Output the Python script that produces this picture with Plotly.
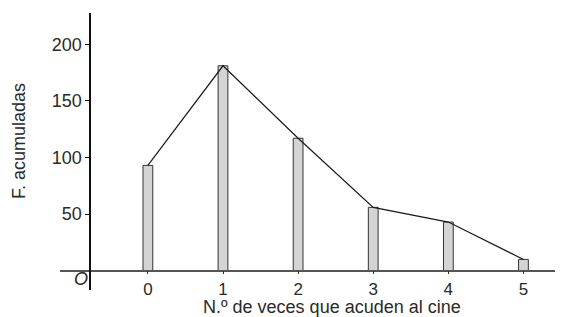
import plotly.graph_objects as go

categories = [0, 1, 2, 3, 4, 5]
values = [93, 181, 117, 56, 43, 10]
y_ticks = [50, 100, 150, 200]
x_title = "N.º de veces que acuden al cine"
y_title = "F. acumuladas"

FONT = "Liberation Sans, Arial, sans-serif"
TXT = "#2a2a2a"

fig = go.Figure()
fig.add_trace(go.Bar(
    x=categories, y=values, width=0.13,
    marker=dict(color="#d4d4d4", line=dict(color="#333333", width=1)),
    showlegend=False, hoverinfo="skip",
))
fig.add_trace(go.Scatter(
    x=categories, y=values, mode="lines",
    line=dict(color="#1a1a1a", width=1.2),
    showlegend=False, hoverinfo="skip",
))

ymin, ymax = -17, 227.6
xmin, xmax = -1.17, 5.42
x_axis_pos = (0 - ymin) / (ymax - ymin)
y_axis_pos = (-0.77 - xmin) / (xmax - xmin)

# page body has an 8px margin, so the plot area is shifted accordingly
fig.update_layout(
    width=568, height=317,
    margin=dict(l=52, r=21, t=5, b=35, autoexpand=False),
    paper_bgcolor="white", plot_bgcolor="white",
    font=dict(family=FONT, size=18, color=TXT),
    xaxis=dict(
        range=[xmin, xmax], anchor="free", position=x_axis_pos, automargin=False,
        showline=True, linecolor="#555555", linewidth=1.5,
        showgrid=False, zeroline=False,
        tickvals=categories, ticktext=[str(c) for c in categories],
        ticks="outside", ticklen=3, tickcolor="#333333", tickwidth=1,
        tickfont=dict(size=17, color=TXT),
    ),
    yaxis=dict(
        range=[ymin, ymax], anchor="free", position=y_axis_pos, automargin=False,
        showline=True, linecolor="#111111", linewidth=1.5,
        showgrid=False, zeroline=False,
        tickvals=y_ticks, ticktext=[str(v) for v in y_ticks],
        ticks="outside", ticklen=4, tickcolor="#111111", tickwidth=1,
        tickfont=dict(size=18, color=TXT),
    ),
    annotations=[
        dict(x=-0.891, y=-7.3, xref="x", yref="y", text="<i>O</i>", showarrow=False,
             font=dict(size=18, color=TXT), xanchor="center", yanchor="middle"),
        dict(x=0.5495, y=-0.062, xref="paper", yref="paper", text=x_title, showarrow=False,
             font=dict(size=18, color=TXT), xanchor="center", yanchor="middle"),
        dict(x=-0.0828, y=0.538, xref="paper", yref="paper", text=y_title, showarrow=False,
             textangle=-90, font=dict(size=18, color=TXT), xanchor="center", yanchor="middle"),
    ],
)

fig.write_html("out.html")
